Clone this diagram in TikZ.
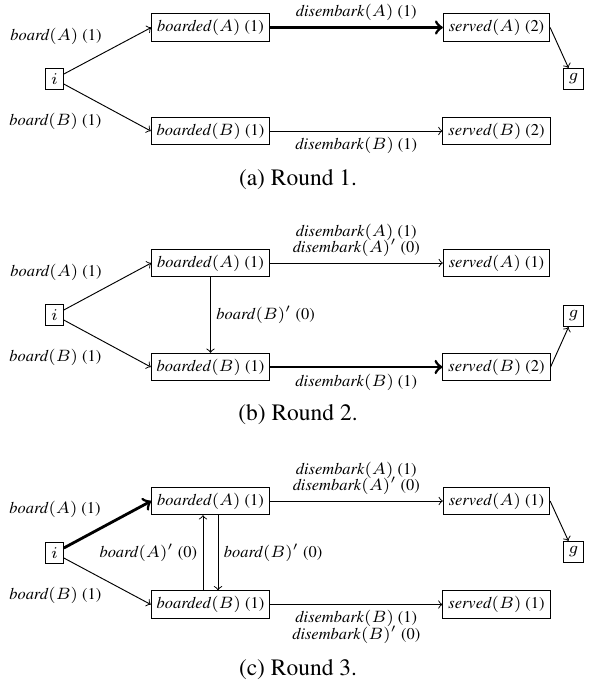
\documentclass[tikz,border=0pt]{standalone}
\usepackage[T1]{fontenc}
\usepackage{times}
\usepackage{tikz}
\usetikzlibrary{calc}
\newcommand{\act}[1]{\textit{#1}}

\tikzset{
  state/.style={draw, font=\scriptsize, inner sep=2.33pt},
  lbl/.style={font=\scriptsize, align=center, inner sep=2.33pt},
  edge/.style={->},
  best/.style={->, very thick},
  caption/.style={font=\normalsize}
}

\begin{document}
\begin{tikzpicture}[x=0.426pt, y=-0.426pt]
			\useasboundingbox (0,0) rectangle (590,688);
			
			%%%%% ROUND 1 %%%%%
			
			\node[state] (i1) at (54.5, 79) {$i$};
			\node[state] (bA1) at (210.5, 27.5) {\act{boarded}$(A)$ (1)};
			\node[state] (bB1) at (210.5, 131) {\act{boarded}$(B)$ (1)};
			\node[state] (sA1) at (496.5, 27.5) {\act{served}$(A)$ (2)};
			\node[state] (sB1) at (496.5, 131) {\act{served}$(B)$ (2)};
			\node[state] (g1) at (573.5, 79) {$g$};
			
			\draw[edge] (i1) -- node[lbl, above left] {\act{board}$(A)$ (1)} (bA1.west);
			\draw[edge] (i1) -- node[lbl, below left] {\act{board}$(B)$ (1)} (bB1.west);
			\draw[best] (bA1) -- node[lbl, above] {\act{disembark}$(A)$ (1)} (sA1);
			\draw[edge] (bB1) -- node[lbl, below] {\act{disembark}$(B)$ (1)} (sB1);
			\draw[edge] (sA1.east) -- (g1);
			
			\node[caption] (cap1) at (298, 180) {(a) Round 1.};
			
			%%%%% ROUND 2 %%%%%
			
			\node[state] (i2) at (54.5, 315) {$i$};
			\node[state] (bA2) at (210.5, 263) {\act{boarded}$(A)$ (1)};
			\node[state] (bB2) at (210.5, 367) {\act{boarded}$(B)$ (1)};
			\node[state] (sA2) at (496.5, 263) {\act{served}$(A)$ (1)};
			\node[state] (sB2) at (496.5, 367) {\act{served}$(B)$ (2)};
			\node[state] (g2) at (573.5, 316) {$g$};
			
			\draw[edge] (i2) -- node[lbl, above left] {\act{board}$(A)$ (1)} (bA2.west);
			\draw[edge] (i2) -- node[lbl, below left] {\act{board}$(B)$ (1)} (bB2.west);
			\draw[edge] (bA2) -- node[lbl, right] {\act{board}$(B)'$ (0)} (bB2);
			\draw[edge] (bA2) -- node[lbl, above] {\act{disembark}$(A)$ (1)\\[-1pt]\act{disembark}$(A)'$ (0)} (sA2);
			\draw[best] (bB2) -- node[lbl, below] {\act{disembark}$(B)$ (1)} (sB2);
			\draw[edge] (sB2.east) -- (g2);
			
			\node[caption] (cap2) at (298, 415) {(b) Round 2.};
			
			%%%%% ROUND 3 %%%%%
			
			\node[state] (i3) at (54.5, 553) {$i$};
			\node[state] (bA3) at (210.5, 501) {\act{boarded}$(A)$ (1)};
			\node[state] (bB3) at (210.5, 604.5) {\act{boarded}$(B)$ (1)};
			\node[state] (sA3) at (496.5, 501) {\act{served}$(A)$ (1)};
			\node[state] (sB3) at (496.5, 604.5) {\act{served}$(B)$ (1)};
			\node[state] (g3) at (573.5, 552) {$g$};
			
			\draw[best] (i3) -- node[lbl, above left] {\act{board}$(A)$ (1)} (bA3.west);
			\draw[edge] (i3) -- node[lbl, below left] {\act{board}$(B)$ (1)} (bB3.west);
			\draw[edge] ([xshift=-3.2pt]bB3.north) -- node[lbl, left] {\act{board}$(A)'$ (0)} ([xshift=-3.2pt]bA3.south);
			\draw[edge] ([xshift=3.2pt]bA3.south) -- node[lbl, right] {\act{board}$(B)'$ (0)} ([xshift=3.2pt]bB3.north);
			\draw[edge] (bA3) -- node[lbl, above] {\act{disembark}$(A)$ (1)\\[-1pt]\act{disembark}$(A)'$ (0)} (sA3);
			\draw[edge] (bB3) -- node[lbl, below] {\act{disembark}$(B)$ (1)\\[-1pt]\act{disembark}$(B)'$ (0)} (sB3);
			\draw[edge] (sA3.east) -- (g3);
			
			\node[caption] (cap3) at (298, 670) {(c) Round 3.};
			
		\end{tikzpicture}
\end{document}
